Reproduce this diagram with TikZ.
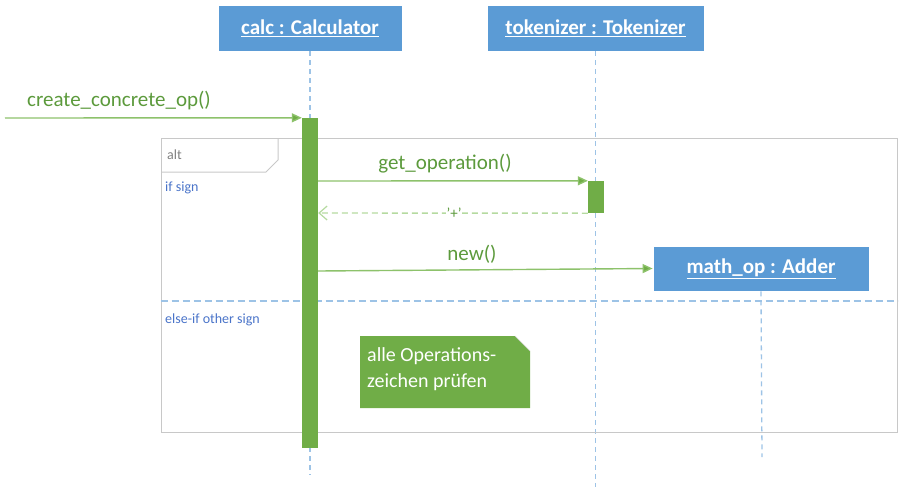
\documentclass[tikz,border=0pt]{standalone}
\usepackage{fontspec}
\setmainfont{Carlito}
\usetikzlibrary{arrows.meta}
\definecolor{boxblue}{HTML}{5B9BD5}
\definecolor{lifeblue}{HTML}{9DC3E6}
\definecolor{actgreen}{HTML}{70AD47}
\definecolor{msggreen}{HTML}{8DC26B}
\definecolor{txtgreen}{HTML}{5C9A3C}
\definecolor{retgreen}{HTML}{B5DAA0}
\definecolor{framegray}{HTML}{C8C8C8}
\definecolor{guardblue}{HTML}{4A74C9}
\tikzset{
  objbox/.style={fill=boxblue, draw=white, line width=0.8pt, inner sep=0pt, text=white, font=\fontsize{21}{24}\selectfont\bfseries},
  lifeline/.style={lifeblue, dashed, dash pattern=on 5pt off 4pt, line width=1.3pt},
  actbar/.style={fill=actgreen, draw=none},
  msg/.style={msggreen, line width=1.4pt, -{Triangle[length=10pt,width=9pt,fill=actgreen]}},
  retmsg/.style={retgreen, line width=1.4pt, dash pattern=on 6pt off 4pt, -{Straight Barb[length=8pt,width=14pt,line width=1.2pt]}},
  msglabel/.style={text=txtgreen, font=\fontsize{21}{24}\selectfont, inner sep=1pt},
  guard/.style={text=guardblue, font=\fontsize{14}{16}\selectfont, anchor=west, inner sep=0pt},
}
\begin{document}
\begin{tikzpicture}[x=1pt, y=-1pt]
\useasboundingbox (0,0) rectangle (901,490);
% objects
\node[objbox, minimum width=184pt, minimum height=46pt] (calc) at (310,28) {\underline{calc : Calculator}};
\node[objbox, minimum width=217pt, minimum height=46pt] (tok) at (595.5,28) {\underline{tokenizer : Tokenizer}};
% lifelines
\coordinate (calcend) at (310,475);
\coordinate (tokend) at (595.5,487);
\draw[lifeline] (calc.south) -- (calcend);
\draw[lifeline] (tok.south) -- (tokend);
% alt frame
\node[draw=framegray, line width=1pt, minimum width=736pt, minimum height=294pt, inner sep=0pt] (frame) at (529,285) {};
\draw[framegray, line width=1pt] (161,172) -- (266,172) -- (278,160) -- (278,138);
\node[text=gray, font=\fontsize{14}{16}\selectfont, anchor=west, inner sep=0pt] (altlbl) at (167,155) {alt};
\node[guard] (g1) at (165,188) {if sign};
\draw[lifeblue, line width=1.3pt, dash pattern=on 7pt off 4pt] (frame.west |- 0,301) coordinate (sepl) -- (frame.east |- 0,301) coordinate (sepr);
\node[guard] (g2) at (165,320) {else-if other sign};
% activation bars
\node[actbar, minimum width=16pt, minimum height=330pt, inner sep=0pt] (act1) at (310,283) {};
\node[actbar, minimum width=16pt, minimum height=32pt, inner sep=0pt] (act2) at (596,197) {};
% math_op
\node[objbox, minimum width=216pt, minimum height=45pt] (mop) at (761,268.5) {\underline{math\_op : Adder}};
\coordinate (mopend) at (762,457);
\draw[lifeline] (mop.south) -- (mopend);
% incoming message
\coordinate (start) at (5,118);
\draw[msg] (start) -- (act1.north west);
\node[msglabel, anchor=west] (l0) at (26,101) {create\_concrete\_op()};
% get_operation
\draw[msg] (act1.east |- 0,181) -- (act2.north west);
\node[msglabel] (l1) at (445,164) {get\_operation()};
% return
\draw[retmsg] (act2.south west) -- (act1.east |- 0,213);
\node[text=txtgreen, fill=white, font=\fontsize{15}{17}\selectfont, inner sep=1pt] (l2) at (454,213) {'+'};
% new
\draw[msg] (act1.east |- 0,271) -- (mop.west);
\node[msglabel] (l3) at (472,254) {new()};
% note
\fill[actgreen] (360,336) -- (515,336) -- (530,351) -- (530,408) -- (360,408) -- cycle;
\draw[white!85!black, line width=0.5pt] (515,336) -- (530,351);
\node[text=white, font=\fontsize{20}{26}\selectfont, align=left, anchor=north west, inner sep=0pt] (note) at (367,347) {alle Operations-\\zeichen prüfen};
\end{tikzpicture}
\end{document}
